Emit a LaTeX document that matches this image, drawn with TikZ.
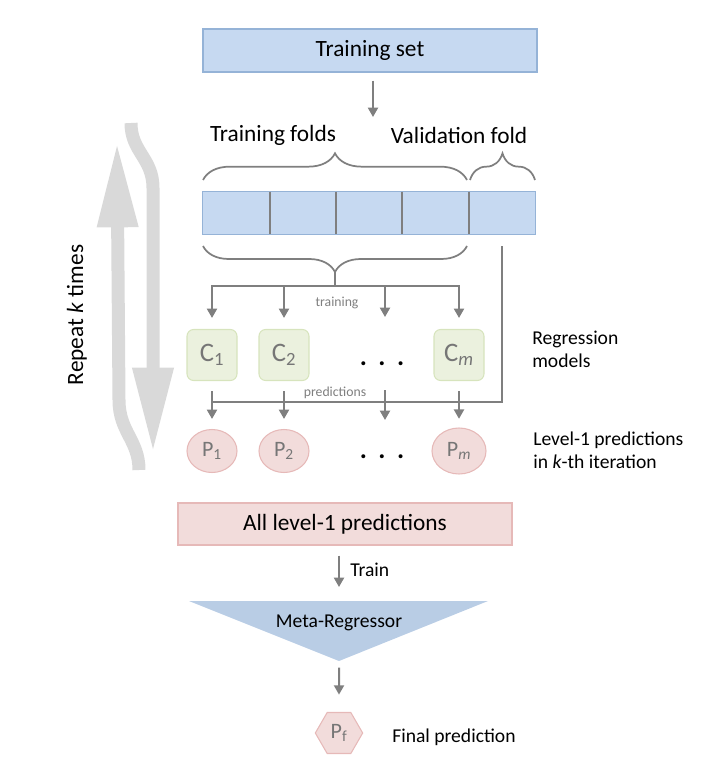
\documentclass[tikz,border=0pt]{standalone}
\usepackage{fontspec}
\setmainfont{Carlito}
\usetikzlibrary{arrows.meta,decorations.pathreplacing,shapes.geometric}
\definecolor{foldblue}{HTML}{C6D9F1}
\definecolor{foldedge}{HTML}{95B3D7}
\definecolor{metablue}{HTML}{B9CDE5}
\definecolor{modelgreen}{HTML}{EBF1DE}
\definecolor{modeledge}{HTML}{D7E4BD}
\definecolor{predpink}{HTML}{F2DCDB}
\definecolor{prededge}{HTML}{E6B9B8}
\definecolor{linegray}{HTML}{7F7F7F}
\definecolor{labelgray}{HTML}{767676}
\definecolor{loopgray}{HTML}{D9D9D9}

\begin{document}
\begin{tikzpicture}[x=0.75pt,y=-0.75pt,
  big/.style={font=\fontsize{17.5}{21}\selectfont},
  mid/.style={font=\fontsize{14.7}{17}\selectfont,align=left,inner sep=0pt},
  small/.style={font=\fontsize{10.3}{12}\selectfont,text=linegray,inner sep=1pt},
  gline/.style={linegray,line width=1.5pt},
  garrow/.style={gline,-{Triangle[length=7pt,width=7.5pt]}},
  brc/.style={gline,line width=1.3pt,decorate,decoration={brace,amplitude=20pt}},
  loop/.style={loopgray,line width=9.75pt,-{Triangle[length=64pt,width=28.5pt]}},
  bluebox/.style={draw=foldedge,fill=foldblue,line width=0.8pt,inner sep=0pt},
  pinkbox/.style={draw=prededge,fill=predpink,line width=0.8pt,inner sep=0pt},
  fold/.style={fill=foldblue,minimum width=49.8pt,minimum height=31.5pt,inner sep=0pt},
  model/.style={draw=modeledge,fill=modelgreen,line width=0.8pt,rounded corners=5pt,
    minimum width=37.5pt,minimum height=38.25pt,inner sep=0pt,text=labelgray,
    font=\fontsize{20}{24}\selectfont},
  pred/.style={ellipse,draw=prededge,fill=predpink,line width=0.8pt,
    minimum width=37.5pt,minimum height=32.25pt,inner sep=0pt,text=labelgray,
    font=\fontsize{16.5}{20}\selectfont},
  hexa/.style={regular polygon,regular polygon sides=6,draw=prededge,fill=predpink,
    line width=0.8pt,minimum size=35.5pt,inner sep=0pt,text=labelgray,
    font=\fontsize{16.5}{20}\selectfont},
  dots/.style={font=\bfseries\fontsize{20}{24}\selectfont,inner sep=0pt}]
\useasboundingbox (0,0) rectangle (703,767);

% repeat k times
\draw[loop] (139,470) .. controls (139,440) and (119,432) .. (119,400) -- (117,142);
\draw[loop] (131,123) .. controls (131,152) and (153,158) .. (153,188) -- (153,453);
\node[big,rotate=90] (rep) at (77,315) {Repeat \textit{k} times};

% training set and folds
\node[bluebox,big,minimum width=250.5pt,minimum height=32.25pt] (tset) at (370,50.5) {Training set};
\coordinate (tsin) at (373,117);
\draw[garrow,shorten <=6pt] (tset.south -| tsin) -- (tsin);

\node[big] (tfl) at (273,135) {Training folds};
\node[big] (vfl) at (459,135) {Validation fold};
\draw[brc] (203,180) -- (467,180);
\draw[brc] (470,180) -- (535,180);

\foreach \i in {1,...,5}
  \node[fold] (f\i) at ({203+66.4*(\i-0.5)},213) {};
\draw[foldedge,line width=0.8pt] (f1.north west) rectangle (f5.south east);
\foreach \i in {1,...,4}
  \draw[gline] (f\i.north east) -- (f\i.south east);

\draw[brc,decoration={mirror,amplitude=19.5pt}] (203,246) -- (467,246);

% regression models
\node[model] (C1) at (212,355) {C\textsubscript{1}};
\node[model] (C2) at (284,355) {C\textsubscript{2}};
\node[model] (Cm) at (459,355) {C\textsubscript{\itshape m}};
\node[dots] (cdots) at (382,364) {.\hspace{8.6pt}.\hspace{8.6pt}.};
\node[mid,anchor=west] (regl) at (532,349) {Regression\\models};

\coordinate (btip) at (335,272);
\coordinate (hub) at (335,286);
\coordinate (t3) at (385,317);
\draw[gline] (btip) -- (hub);
\draw[garrow,shorten >=8.25pt] (hub) -| (C1.north);
\draw[garrow,shorten >=8.25pt] (hub) -| (C2.north);
\draw[garrow] (hub) -| (t3);
\draw[garrow,shorten >=8.25pt] (hub) -| (Cm.north);
\node[small] (trl) at (337,303) {training};

% level-1 predictions
\node[pred] (P1) at (212,451) {P\textsubscript{1}};
\node[pred] (P2) at (284,451) {P\textsubscript{2}};
\node[pred,minimum width=40.5pt,minimum height=34.5pt] (Pm) at (459,451) {P\textsubscript{\itshape m}};
\node[dots] (pdots) at (382,457) {.\hspace{8.6pt}.\hspace{8.6pt}.};
\node[mid,anchor=west] (lvl) at (533,450) {Level-1 predictions\\in \textit{k}-th iteration};

\coordinate (pl) at (212,402);
\coordinate (q3a) at (385,390);
\coordinate (q3b) at (385,420);
\draw[gline,shorten <=9pt] (f5.south) |- (pl);
\draw[garrow,shorten <=7.5pt,shorten >=7.5pt] (C1.south) -- (P1.north);
\draw[garrow,shorten <=7.5pt,shorten >=7.5pt] (C2.south) -- (P2.north);
\draw[garrow] (q3a) -- (q3b);
\draw[garrow,shorten <=7.5pt,shorten >=6.5pt] (Cm.south) -- (Pm.north);
\node[small,fill=white] (prl) at (335,393) {predictions};

% meta regressor
\node[pinkbox,big,minimum width=250.5pt,minimum height=31.5pt] (allp) at (345,524) {All level-1 predictions};
\coordinate (mtop) at (339,601);
\coordinate (mtip) at (339,661);
\draw[fill=metablue,draw=none] (189,601) -- (488,601) -- (mtip) -- cycle;
\node[mid] (meta) at (339,623) {Meta-Regressor};
\draw[garrow,shorten <=7.5pt,shorten >=10.5pt] (allp.south -| mtop) -- (mtop);
\node[mid,anchor=west] (trn) at (350,570) {Train};

\node[hexa] (Pf) at (339,733) {P\textsubscript{f}};
\draw[garrow,shorten <=5pt,shorten >=13pt] (mtip) -- (Pf.north);
\node[mid,anchor=west] (fpl) at (392,737) {Final prediction};
\end{tikzpicture}
\end{document}
